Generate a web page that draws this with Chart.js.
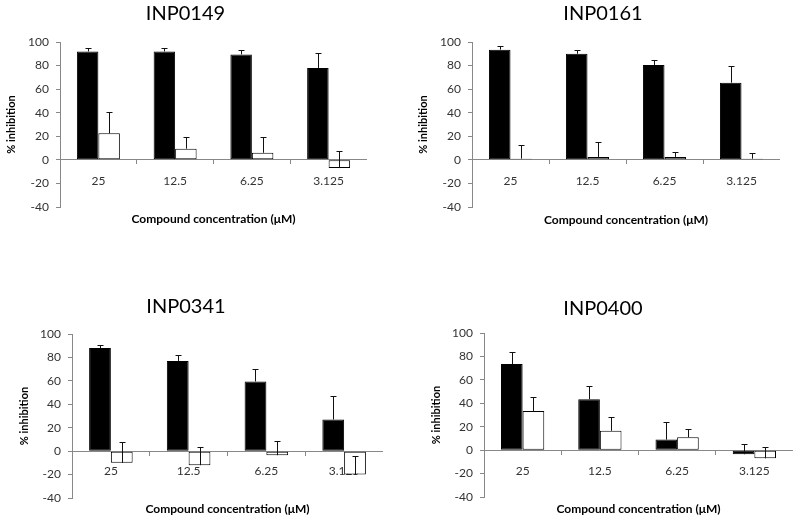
<!DOCTYPE html>
<html>
<head>
<meta charset="utf-8">
<script src="https://cdn.jsdelivr.net/npm/chart.js@4/dist/chart.umd.min.js"></script>
<style>
  html, body { margin: 0; padding: 0; background: #fff; }
  body { width: 800px; height: 521px; position: relative; overflow: hidden; }
  canvas { position: absolute; }
</style>
</head>
<body>
<canvas id="c1"></canvas>
<canvas id="c2"></canvas>
<canvas id="c3"></canvas>
<canvas id="c4"></canvas>
<script>
// concentrations (x categories) and y ticks
var concentrations = ['25', '12.5', '6.25', '3.125'];
var yMin = -40, yMax = 100, yStep = 20;
var xTitle = 'Compound concentration (\u03bcM)';
var yTitle = '% inhibition';

// % inhibition: filled (black) and open (white) bars,
// errors are the upward error bar lengths
var inp0149Filled = [92, 92, 89.5, 78];
var inp0149FilledErr = [2.5, 3, 4, 12.5];
var inp0149Open = [22.5, 9.5, 6, -7];
var inp0149OpenErr = [18.5, 10, 13.5, 14.5];

var inp0161Filled = [93.5, 90, 80.5, 65.5];
var inp0161FilledErr = [3.5, 3.5, 4.5, 14];
var inp0161Open = [1, 2.5, 2.5, 1];
var inp0161OpenErr = [11.5, 13, 4, 5];

var inp0341Filled = [88, 77, 59.5, 27];
var inp0341FilledErr = [3, 5.5, 11, 20.5];
var inp0341Open = [-10, -12, -3.5, -20];
var inp0341OpenErr = [17.5, 15.5, 12.5, 15.5];

var inp0400Filled = [73.5, 43.5, 9, -3.5];
var inp0400FilledErr = [10.5, 11, 15, 9];
var inp0400Open = [33.5, 16.5, 11, -7];
var inp0400OpenErr = [11.5, 11.5, 7, 9.5];

Chart.defaults.font.family = 'Lato, "Liberation Sans", sans-serif';

// one-sided (upward) error bars with a small cap
var errorBars = {
    id: 'errorBars',
    afterDatasetsDraw: function (chart) {
        var ctx = chart.ctx;
        var yScale = chart.scales.y;
        chart.data.datasets.forEach(function (ds, i) {
            var meta = chart.getDatasetMeta(i);
            meta.data.forEach(function (bar, j) {
                var x = Math.round(bar.x) + 0.5;
                var top = Math.round(yScale.getPixelForValue(ds.data[j] + ds.errors[j])) + 0.5;
                ctx.save();
                ctx.strokeStyle = '#111';
                ctx.lineWidth = 1;
                ctx.beginPath();
                ctx.moveTo(x, bar.y);
                ctx.lineTo(x, top);
                ctx.moveTo(x - 3, top);
                ctx.lineTo(x + 3, top);
                ctx.stroke();
                ctx.restore();
            });
        });
    }
};

function makePanel(id, name, filled, filledErr, open, openErr, box) {
    var canvas = document.getElementById(id);
    canvas.width = box.width;
    canvas.height = box.height;
    canvas.style.left = box.left + 'px';
    canvas.style.top = box.top + 'px';

    return new Chart(canvas.getContext('2d'), {
        type: 'bar',
        data: {
            labels: concentrations,
            datasets: [{
                label: name + ' filled',
                data: filled,
                errors: filledErr,
                backgroundColor: '#000',
                borderColor: '#000',
                borderWidth: 1,
                borderSkipped: false
            }, {
                label: name + ' open',
                data: open,
                errors: openErr,
                backgroundColor: '#fff',
                borderColor: '#000',
                borderWidth: 1,
                borderSkipped: false
            }]
        },
        plugins: [errorBars],
        options: {
            responsive: false,
            animation: false,
            layout: { padding: { left: box.padLeft, right: 0, top: 0, bottom: 0 } },
            datasets: { bar: { categoryPercentage: 0.56, barPercentage: 1 } },
            plugins: {
                legend: { display: false },
                tooltip: { enabled: false },
                title: {
                    display: true,
                    text: name,
                    color: '#000',
                    font: { size: 20, weight: 'normal' },
                    padding: { top: box.titleTop, bottom: box.titleBottom }
                }
            },
            scales: {
                x: {
                    position: { y: 0 },
                    grid: { drawOnChartArea: false, tickLength: 4, color: '#888' },
                    border: { color: '#888' },
                    ticks: { color: '#333', font: { size: 12 }, padding: box.tickPad, maxRotation: 0 },
                    afterFit: function (s) { s.height = 0; }
                },
                x2: {
                    type: 'category',
                    position: 'bottom',
                    grid: { display: false },
                    border: { display: false },
                    ticks: { display: false },
                    title: { display: true, text: xTitle, color: '#000', font: { size: 12, weight: 'bold' }, padding: 0 },
                    afterFit: function (s) { s.height = box.xTitleHeight; }
                },
                y: {
                    min: yMin,
                    max: yMax,
                    ticks: { stepSize: yStep, color: '#333', font: { size: 12 }, padding: 7 },
                    grid: { drawOnChartArea: false, tickLength: 4, color: '#888' },
                    border: { color: '#888' },
                    title: { display: true, text: yTitle, color: '#000', font: { size: 11, weight: 'bold' }, padding: { top: box.yTitlePad, bottom: 0 } },
                    afterFit: function (s) { s.width = box.yWidth; }
                }
            }
        }
    });
}

makePanel('c1', 'INP0149', inp0149Filled, inp0149FilledErr, inp0149Open, inp0149OpenErr,
    { left: 0, top: 0, width: 367, height: 226, padLeft: 4, yWidth: 56, yTitlePad: 1,
      titleTop: 2, titleBottom: 16, xTitleHeight: 19, tickPad: 10 });
makePanel('c2', 'INP0161', inp0161Filled, inp0161FilledErr, inp0161Open, inp0161OpenErr,
    { left: 400, top: 0, width: 380, height: 227, padLeft: 26, yWidth: 46, yTitlePad: -9.6,
      titleTop: 2, titleBottom: 16, xTitleHeight: 20, tickPad: 10 });
makePanel('c3', 'INP0341', inp0341Filled, inp0341FilledErr, inp0341Open, inp0341OpenErr,
    { left: -11, top: 290, width: 394, height: 226, padLeft: 0, yWidth: 83, yTitlePad: 29,
      titleTop: 4.5, titleBottom: 15.5, xTitleHeight: 18, tickPad: 9 });
makePanel('c4', 'INP0400', inp0400Filled, inp0400FilledErr, inp0400Open, inp0400OpenErr,
    { left: 400, top: 290, width: 393, height: 226, padLeft: 13, yWidth: 71, yTitlePad: 17,
      titleTop: 7, titleBottom: 12, xTitleHeight: 19, tickPad: 10 });
</script>
</body>
</html>
